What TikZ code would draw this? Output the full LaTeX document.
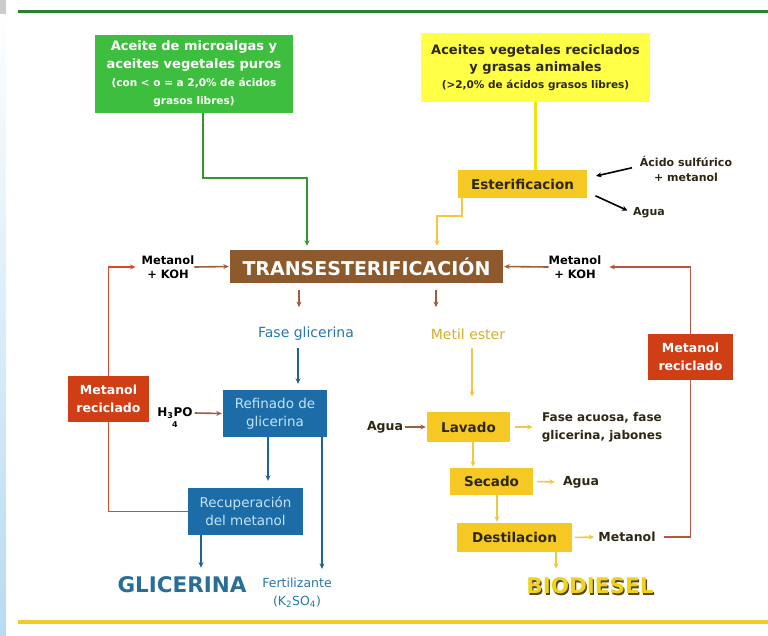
\documentclass[tikz,border=0pt]{standalone}
\usepackage{fontspec}
\setmainfont{DejaVu Sans}
\usetikzlibrary{arrows.meta,calc}
\definecolor{gboxc}{RGB}{62,190,62}
\definecolor{glinec}{RGB}{40,130,40}
\definecolor{garrc}{RGB}{50,150,50}
\definecolor{yboxc}{RGB}{255,255,70}
\definecolor{ylinec}{RGB}{240,228,10}
\definecolor{goldc}{RGB}{245,200,35}
\definecolor{goldl}{RGB}{240,200,70}
\definecolor{metc}{RGB}{215,175,40}
\definecolor{brownc}{RGB}{140,90,45}
\definecolor{brarrc}{RGB}{155,95,60}
\definecolor{redc}{RGB}{208,62,22}
\definecolor{redl}{RGB}{215,75,45}
\definecolor{redr}{RGB}{185,85,65}
\definecolor{bluec}{RGB}{28,108,168}
\definecolor{bluetx}{RGB}{195,228,248}
\definecolor{bluel}{RGB}{40,120,170}
\definecolor{blarrc}{RGB}{30,100,150}
\definecolor{glicc}{RGB}{40,110,150}
\definecolor{darktx}{RGB}{45,40,20}
\definecolor{bioy}{RGB}{240,210,30}
\definecolor{biod}{RGB}{90,70,20}
\definecolor{stripe}{RGB}{185,218,242}
\definecolor{botc}{RGB}{245,200,45}
\begin{document}
\begin{tikzpicture}[x=1pt,y=-1pt,
  tip/.style={-{Stealth[length=5.5pt,width=5pt]}},
  con/.style={line width=1.6pt},
  box/.style={inner sep=0pt, align=center, draw=none},
  gbx/.style={box, fill=gboxc, text=white, font=\fontsize{13}{18}\selectfont\bfseries},
  ybx/.style={box, fill=yboxc, text=darktx, font=\fontsize{13}{17}\selectfont\bfseries},
  gold/.style={box, fill=goldc, text=darktx, font=\fontsize{13.5}{16}\selectfont\bfseries},
  redbox/.style={box, fill=redc, text=white, font=\fontsize{12.5}{18}\selectfont\bfseries},
  bbox/.style={box, fill=bluec, text=bluetx, font=\fontsize{13.5}{18}\selectfont},
  lbl/.style={inner sep=0pt, align=center, text=black, font=\fontsize{11.5}{13.5}\selectfont\bfseries},
  lblb/.style={inner sep=0pt, align=center, text=darktx, font=\fontsize{12.5}{18}\selectfont\bfseries},
  lbls/.style={inner sep=0pt, align=center, text=darktx, font=\fontsize{11}{15}\selectfont\bfseries},
  big/.style={inner sep=0pt, font=\fontsize{21.5}{24}\selectfont\bfseries},
  garr/.style={con, tip, draw=garrc},
  yarr/.style={con, tip, draw=goldl},
  brarr/.style={con, tip, draw=brarrc},
  blarr/.style={con, tip, draw=blarrc},
  blkarr/.style={con, tip, draw=black},
  redarr/.style={con, draw=redl},
  redarr2/.style={con, draw=redr}
]
\useasboundingbox (0,0) rectangle (768,635);
\fill[white] (0,0) rectangle (768,635);
\shade[top color=white, bottom color=stripe] (0,0) rectangle (6,635);
\fill[gray!40] (0,0) rectangle (6,14);
\draw[glinec, line width=3pt] (18,11) -- (768,11);
\draw[botc, line width=4pt] (18,622) -- (768,622);

% nodes
\node[gbx, minimum width=198, minimum height=78] (green) at (194,74)
  {Aceite de microalgas y\\aceites vegetales puros\\\fontsize{10.5}{15}\selectfont (con < o = a 2,0\% de ácidos\\\fontsize{10.5}{15}\selectfont grasos libres)};
\node[ybx, minimum width=229, minimum height=69] (yellow) at (535.5,67.5)
  {Aceites vegetales reciclados\\y grasas animales\\\fontsize{10.5}{14}\selectfont (>2,0\% de ácidos grasos libres)};
\node[gold, minimum width=129, minimum height=28] (ester) at (522.5,184) {Esterificacion};
\node[lbls] (acid) at (686,169) {Ácido sulfúrico\\+ metanol};
\node[lbls] (agua3) at (649,213) {Agua};
\node[box, fill=brownc, text=white, minimum width=273, minimum height=33,
  font=\fontsize{19}{22}\selectfont\bfseries] (trans) at (366.5,266.5) {TRANSESTERIFICACIÓN};
\node[lbl] (mk1) at (168,267) {Metanol\\+ KOH};
\node[lbl] (mk2) at (575,267) {Metanol\\+ KOH};
\node[redbox, minimum width=81, minimum height=46] (redL) at (108.5,399) {Metanol\\reciclado};
\node[redbox, minimum width=85, minimum height=46] (redR) at (690.5,357) {Metanol\\reciclado};
\node[inner sep=0pt, text=bluel, font=\fontsize{14}{16}\selectfont] (fg) at (306,334) {Fase glicerina};
\node[inner sep=0pt, text=metc, font=\fontsize{14}{16}\selectfont] (me) at (468,334) {Metil ester};
\node[lbl, font=\fontsize{12}{14}\selectfont\bfseries,
  label={[inner sep=0pt, font=\fontsize{8}{9}\selectfont\bfseries, yshift=-3pt]below:4}] (h3) at (175,413) {H\textsubscript{3}PO};
\node[bbox, minimum width=104, minimum height=47] (refin) at (275,413.5) {Refinado de\\glicerina};
\node[bbox, minimum width=115, minimum height=47] (recup) at (245.5,511.5) {Recuperación\\del metanol};
\node[gold, minimum width=83, minimum height=30] (lav) at (468.5,427) {Lavado};
\node[gold, minimum width=83, minimum height=27] (sec) at (491.5,481.5) {Secado};
\node[gold, minimum width=115, minimum height=29] (dest) at (514.5,537.5) {Destilacion};
\node[lblb] (agua1) at (385,427) {Agua};
\node[lblb, font=\fontsize{12}{18}\selectfont\bfseries] (fa) at (602,427) {Fase acuosa, fase\\glicerina, jabones};
\node[lblb] (agua2) at (581,482) {Agua};
\node[lblb] (me3) at (627,537) {Metanol};
\node[big, text=glicc] (glic) at (182,585) {GLICERINA};
\node[inner sep=0pt, align=center, text=bluel, font=\fontsize{12.5}{18}\selectfont] (fert) at (297,593)
  {Fertilizante\\(K\textsubscript{2}SO\textsubscript{4})};
\node[big, text=biod] at (591.2,587.2) {BIODIESEL};
\node[big, text=bioy] (bio) at (590,586) {BIODIESEL};

% connectors
\coordinate (g1) at (307,178);
\draw[garr, shorten >=4pt] (green.south) ++(9,0) coordinate (g0) -- (g0 |- g1) -- (g1) -- (g1 |- trans.north);
\draw[draw=ylinec, line width=2.2pt] (yellow.south) -- (yellow.south |- ester.north);
\coordinate (e1) at (437,216);
\draw[yarr, shorten >=4pt] (ester.south west) ++(4,0) coordinate (e0) -- (e0 |- e1) -- (e1) -- (e1 |- trans.north);
\draw[blkarr, shorten <=8pt, shorten >=9pt] ([shift={(0,-3)}]acid.west) -- ([shift={(0,-6)}]ester.east);
\draw[blkarr, shorten <=9pt, shorten >=6pt] ([shift={(0,8)}]ester.east) -- (agua3.west);
\draw[brarr, shorten >=1pt] (mk1.east) -- (trans.west);
\draw[brarr, shorten >=1pt] (mk2.west) -- (trans.east);
\draw[brarr] (trans.south) ++(-67.5,7) -- ++(0,17);
\draw[brarr] (trans.south) ++(69.5,7) -- ++(0,17);
\draw[blarr, shorten <=7pt, shorten >=6pt] (fg.south) ++(-8,0) coordinate (f0) -- (f0 |- refin.north);
\draw[yarr, shorten <=8pt, shorten >=15pt] (me.south) ++(4,0) coordinate (m0) -- (m0 |- lav.north);
\draw[brarr, shorten >=1pt] (h3.east) ++(2,0) -- (refin.west);
\draw[blarr, shorten >=7pt] (refin.south) ++(-7,0) coordinate (r0) -- (r0 |- recup.north);
\draw[blarr, shorten >=9pt] (refin.south) ++(47,0) coordinate (r1) -- (r1 |- fert.north);
\draw[blarr, shorten >=9pt] (recup.south) ++(-44.5,0) coordinate (c0) -- (c0 |- glic.north);
\draw[redarr] (recup.west) -| (redL.south);
\draw[redarr, tip, shorten >=6pt] (redL.north) |- (mk1.west);
\draw[redarr2] (me3.east) ++(8,0) -| (redR.south);
\draw[redarr2, tip, shorten >=8pt] (redR.north) |- (mk2.east);
\draw[con, tip, draw=brarrc, shorten <=2pt, shorten >=1pt] (agua1.east) -- (lav.west);
\draw[yarr, shorten <=5pt, shorten >=9pt] (lav.east) -- (fa.west);
\draw[yarr, shorten >=1pt] (lav.south) ++(4.5,0) coordinate (l0) -- (l0 |- sec.north);
\draw[yarr, shorten <=4pt, shorten >=8pt] (sec.east) -- (agua2.west);
\draw[yarr, shorten >=1pt] (sec.south) ++(5.5,0) coordinate (s0) -- (s0 |- dest.north);
\draw[yarr, shorten <=3pt, shorten >=4pt] (dest.east) -- (me3.west);
\draw[yarr, shorten >=9pt] (dest.south) ++(41.5,0) coordinate (d0) -- (d0 |- bio.north);
\end{tikzpicture}
\end{document}
